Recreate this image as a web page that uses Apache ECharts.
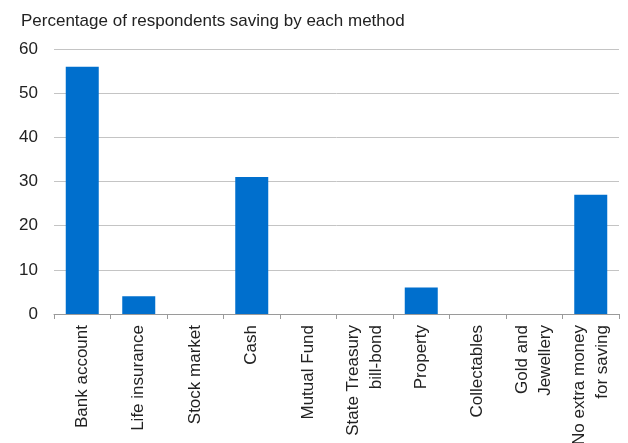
<!DOCTYPE html>
<html>
<head>
<meta charset="utf-8">
<script src="https://cdn.jsdelivr.net/npm/echarts@6/dist/echarts.min.js"></script>
<style>
html,body{margin:0;padding:0;background:#fff;}
#chart{width:628px;height:443px;}
</style>
</head>
<body>
<div id="chart"></div>
<script>
const titleText = 'Percentage of respondents saving by each method';
const categories = ['Bank account', 'Life insurance', 'Stock market', 'Cash', 'Mutual Fund',
  'State Treasury\nbill-bond', 'Property', 'Collectables', 'Gold and\nJewellery', 'No extra money\nfor saving'];
const values = [56, 4, 0, 31, 0, 0, 6, 0, 0, 27];
const yTicks = [0, 10, 20, 30, 40, 50, 60];

const chart = echarts.init(document.getElementById('chart'), null, {renderer: 'canvas'});
const font = 'Liberation Sans, Arial, Helvetica, sans-serif';
chart.setOption({
  animation: false,
  backgroundColor: '#ffffff',
  title: {
    text: titleText,
    left: 16,
    top: 8,
    textStyle: {fontFamily: font, fontSize: 17, fontWeight: 'normal', color: '#222222'}
  },
  grid: {left: 54, right: 9, top: 49, bottom: 129, containLabel: false, outerBoundsMode: 'none'},
  xAxis: {
    type: 'category',
    data: categories,
    boundaryGap: true,
    axisLine: {show: true, lineStyle: {color: '#9a9a9a', width: 1}},
    axisTick: {show: true, length: 5, lineStyle: {color: '#9a9a9a'}},
    axisLabel: {
      interval: 0,
      rotate: 90,
      margin: 11,
      fontFamily: font,
      fontSize: 17,
      lineHeight: 23,
      color: '#222222'
    }
  },
  yAxis: {
    type: 'value',
    min: yTicks[0],
    max: yTicks[yTicks.length - 1],
    interval: 10,
    axisLine: {show: false},
    axisTick: {show: false},
    splitLine: {show: true, lineStyle: {color: '#c4c4c4', width: 1}},
    axisLabel: {margin: 16, fontFamily: font, fontSize: 17, color: '#222222'}
  },
  series: [{
    type: 'bar',
    data: values,
    barWidth: 33,
    itemStyle: {color: '#006fcd'}
  }]
});
</script>
</body>
</html>
